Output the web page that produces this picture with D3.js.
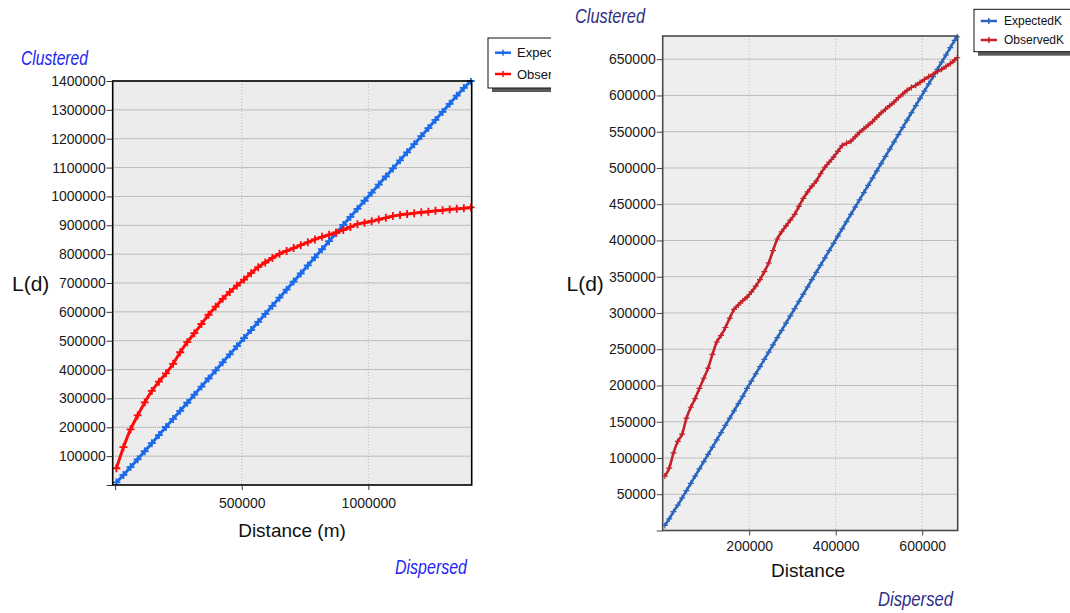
<!DOCTYPE html>
<html><head><meta charset="utf-8">
<script src="https://cdn.jsdelivr.net/npm/d3@7"></script>
<style>
body{margin:0;background:#fff;}
text{font-family:"Liberation Sans",Arial,sans-serif;}
</style>
</head><body>
<svg id="c" width="1070" height="613"></svg>
<script>
// ---------- data ----------
const seriesNames = ["ExpectedK", "ObservedK"];

const leftDistance = [5000, 33000, 61000, 89000, 117000, 145000, 173000, 201000, 229000, 257000,
  285000, 313000, 341000, 369000, 397000, 425000, 453000, 481000, 509000, 537000,
  565000, 593000, 621000, 649000, 677000, 705000, 733000, 761000, 789000, 817000,
  845000, 873000, 901000, 929000, 957000, 985000, 1013000, 1041000, 1069000, 1097000,
  1125000, 1153000, 1181000, 1209000, 1237000, 1265000, 1293000, 1321000, 1349000, 1377000, 1405000];
const leftExpected = [9000, 35000, 62000, 89000, 117000, 145000, 173000, 201000, 229000, 257000,
  285000, 313000, 341000, 369000, 397000, 425000, 453000, 481000, 509000, 537000,
  565000, 593000, 621000, 649000, 677000, 705000, 733000, 761000, 789000, 817000,
  845000, 873000, 901000, 929000, 957000, 985000, 1013000, 1041000, 1069000, 1097000,
  1125000, 1153000, 1181000, 1209000, 1237000, 1265000, 1293000, 1321000, 1349000, 1376000, 1400000];
const leftObserved = [58000, 131000, 193000, 241000, 286000, 326000, 358000, 387000, 420000, 460000,
  495000, 526000, 558000, 590000, 618000, 645000, 669000, 691000, 712000, 734000,
  755000, 771000, 787000, 801000, 811000, 821000, 831000, 841000, 851000, 860000,
  867000, 875000, 884000, 894000, 904000, 909000, 914000, 920000, 926000, 932000,
  936000, 939000, 942000, 945000, 947000, 950000, 952000, 955000, 957000, 959000, 962000];
const leftYTicks = [0, 100000, 200000, 300000, 400000, 500000, 600000, 700000, 800000, 900000,
  1000000, 1100000, 1200000, 1300000, 1400000];
const leftXTicks = [0, 500000, 1000000];

const rightDistance = [5000, 15000, 25000, 35000, 45000, 55000, 65000, 75000, 85000, 95000,
  105000, 115000, 125000, 135000, 145000, 155000, 165000, 175000, 185000, 195000,
  205000, 215000, 225000, 235000, 245000, 255000, 265000, 275000, 285000, 295000,
  305000, 315000, 325000, 335000, 345000, 355000, 365000, 375000, 385000, 395000,
  405000, 415000, 425000, 435000, 445000, 455000, 465000, 475000, 485000, 495000,
  505000, 515000, 525000, 535000, 545000, 555000, 565000, 575000, 585000, 595000,
  605000, 615000, 625000, 635000, 645000, 655000, 665000, 675000, 681000];
const rightExpected = [7000, 16000, 26000, 35000, 45000, 55000, 65000, 75000, 85000, 95000,
  105000, 115000, 125000, 135000, 145000, 155000, 165000, 175000, 185000, 196000,
  206000, 216000, 226000, 236000, 246000, 256000, 266000, 276000, 286000, 296000,
  306000, 316000, 326000, 336000, 346000, 356000, 366000, 376000, 386000, 396000,
  406000, 416000, 426000, 436000, 446000, 456000, 466000, 476000, 486000, 496000,
  506000, 516000, 526000, 536000, 546000, 556000, 566000, 576000, 586000, 596000,
  606000, 616000, 626000, 636000, 646000, 656000, 666000, 676000, 681000];
const rightObserved = [75000, 86000, 107000, 123000, 133000, 155000, 170000, 182000, 196000, 210000,
  224000, 243000, 260000, 269000, 280000, 293000, 305000, 311000, 317000, 322000,
  329000, 337000, 346000, 357000, 369000, 386000, 402000, 412000, 420000, 428000,
  436000, 447000, 458000, 467000, 475000, 482000, 492000, 501000, 508000, 515000,
  523000, 531000, 534000, 537000, 543000, 549000, 554000, 559000, 564000, 570000,
  576000, 581000, 586000, 591000, 597000, 602000, 607000, 611000, 614000, 618000,
  622000, 626000, 629000, 633000, 636000, 640000, 644000, 649000, 652000];
const rightYTicks = [0, 50000, 100000, 150000, 200000, 250000, 300000, 350000, 400000, 450000,
  500000, 550000, 600000, 650000];
const rightXTicks = [200000, 400000, 600000];

// ---------- drawing ----------
const svg = d3.select("#c");
const defs = svg.append("defs");

function drawChart(o) {
  const root = svg.append("g");
  if (o.clipW) {
    defs.append("clipPath").attr("id", o.id + "all").append("rect")
      .attr("x", 0).attr("y", 0).attr("width", o.clipW).attr("height", 613);
    root.attr("clip-path", `url(#${o.id}all)`);
  }
  const x = d3.scaleLinear().domain(o.xDomain).range([o.left, o.right]);
  const y = d3.scaleLinear().domain(o.yDomain).range([o.bottom, o.top]);

  root.append("rect").attr("x", o.left).attr("y", o.top)
    .attr("width", o.right - o.left).attr("height", o.bottom - o.top).attr("fill", o.bg);

  // grid
  root.append("g").selectAll("line").data(o.xTicks.filter(d => d > 0)).join("line")
    .attr("x1", d => x(d)).attr("x2", d => x(d)).attr("y1", o.top).attr("y2", o.bottom)
    .attr("stroke", o.vgrid).attr("stroke-width", 1).attr("stroke-dasharray", "1,2");
  root.append("g").selectAll("line").data(o.yTicks.filter(d => d > 0)).join("line")
    .attr("x1", o.left).attr("x2", o.right).attr("y1", d => y(d)).attr("y2", d => y(d))
    .attr("stroke", o.hgrid).attr("stroke-width", 1).attr("stroke-dasharray", "1,1");

  // series
  defs.append("clipPath").attr("id", o.id + "plot").append("rect")
    .attr("x", o.left).attr("y", o.top - 3).attr("width", o.right - o.left + 3).attr("height", o.bottom - o.top + 3);
  const plot = root.append("g").attr("clip-path", `url(#${o.id}plot)`);
  const series = [
    {vals: o.expected, color: o.colors[0]},
    {vals: o.observed, color: o.colors[1]}
  ];
  const line = d3.line().x(d => x(d[0])).y(d => y(d[1])).curve(d3.curveMonotoneX);
  const s = o.mk;
  series.forEach(sr => {
    const pts = o.distance.map((d, i) => [d, sr.vals[i]]);
    plot.append("path").datum(pts).attr("d", line).attr("fill", "none")
      .attr("stroke", sr.color).attr("stroke-width", o.lw).attr("stroke-linejoin", "round");
    plot.append("g").selectAll("path").data(pts).join("path")
      .attr("transform", d => `translate(${x(d[0])},${y(d[1])})`)
      .attr("d", `M${-s},0H${s}M0,${-s}V${s}`)
      .attr("stroke", sr.color).attr("stroke-width", o.mkw).attr("fill", "none");
  });

  // border
  root.append("rect").attr("x", o.left).attr("y", o.top)
    .attr("width", o.right - o.left).attr("height", o.bottom - o.top)
    .attr("fill", "none").attr("stroke", o.border).attr("stroke-width", o.borderW);

  // axes
  const ya = root.append("g").attr("transform", `translate(${o.left},0)`)
    .call(d3.axisLeft(y).tickValues(o.yTicks).tickSize(6).tickPadding(1)
      .tickFormat(d => d === 0 ? "" : String(d)));
  const xa = root.append("g").attr("transform", `translate(0,${o.bottom})`)
    .call(d3.axisBottom(x).tickValues(o.xTicks).tickSize(5).tickPadding(o.xPad)
      .tickFormat(d => d === 0 ? "" : String(d)));
  [ya, xa].forEach(a => {
    a.select(".domain").remove();
    a.selectAll("line").attr("stroke", o.tickColor);
    a.selectAll("text").attr("font-size", o.tickFont).attr("fill", "#1a1a1a")
      .style("font-family", '"Liberation Sans",Arial,sans-serif');
  });

  // titles
  root.append("text").attr("x", o.ylabX).attr("y", o.ylabY).attr("font-size", 21)
    .attr("fill", "#111").text("L(d)");
  root.append("text").attr("x", o.xlabX).attr("y", o.xlabY).attr("font-size", 19)
    .attr("text-anchor", "middle").attr("fill", "#111").text(o.xTitle);
  root.append("text").attr("x", o.clX).attr("y", o.clY).attr("font-size", o.cdSize)
    .attr("font-style", "italic").attr("fill", o.cdColor)
    .attr("textLength", o.clW).attr("lengthAdjust", "spacingAndGlyphs").text("Clustered");
  root.append("text").attr("x", o.dsX).attr("y", o.dsY).attr("font-size", o.cdSize)
    .attr("font-style", "italic").attr("fill", o.cdColor)
    .attr("textLength", o.dsW).attr("lengthAdjust", "spacingAndGlyphs").text("Dispersed");

  // legend
  const lg = root.append("g");
  lg.append("rect").attr("x", o.lgX + 4).attr("y", o.lgY + 4).attr("width", o.lgW).attr("height", o.lgH)
    .attr("fill", "#5a5a5a");
  lg.append("rect").attr("x", o.lgX).attr("y", o.lgY).attr("width", o.lgW).attr("height", o.lgH)
    .attr("fill", "#fff").attr("stroke", "#111").attr("stroke-width", 1);
  seriesNames.forEach((nm, i) => {
    const yy = o.lgItemY[i];
    lg.append("line").attr("x1", o.lgX + o.lgLine[0]).attr("x2", o.lgX + o.lgLine[1])
      .attr("y1", yy).attr("y2", yy).attr("stroke", o.colors[i]).attr("stroke-width", 2.5);
    const cx = o.lgX + (o.lgLine[0] + o.lgLine[1]) / 2;
    lg.append("path").attr("d", `M${cx},${yy - 3}V${yy + 3}`).attr("stroke", o.colors[i]).attr("stroke-width", 1.5);
    lg.append("text").attr("x", o.lgX + o.lgText).attr("y", yy + o.lgFont * 0.36)
      .attr("font-size", o.lgFont).attr("fill", "#111").text(nm);
  });
}

drawChart({
  id: "L", clipW: 551,
  xDomain: [-9500, 1408000], yDomain: [0, 1400000],
  left: 112.7, right: 471.7, top: 81, bottom: 485,
  xTicks: leftXTicks, yTicks: leftYTicks, xPad: 8,
  distance: leftDistance, expected: leftExpected, observed: leftObserved,
  colors: ["#1a6aea", "#ff0a0a"], lw: 3, mk: 4, mkw: 1.8,
  bg: "#ececec", hgrid: "#8c8c8c", vgrid: "#b8b8b8", border: "#000", borderW: 1.6,
  tickColor: "#333", tickFont: 14,
  ylabX: 12, ylabY: 291, xlabX: 292, xlabY: 537, xTitle: "Distance (m)",
  clX: 21, clY: 65, clW: 67, dsX: 395, dsY: 574, dsW: 72, cdSize: 21, cdColor: "#2424f5",
  lgX: 488, lgY: 38, lgW: 90, lgH: 50, lgItemY: [52.7, 74], lgLine: [7, 23], lgText: 29, lgFont: 13
});

drawChart({
  id: "R",
  xDomain: [0, 682000], yDomain: [0, 682000],
  left: 662.7, right: 957.7, top: 36, bottom: 530.5,
  xTicks: rightXTicks, yTicks: rightYTicks, xPad: 6,
  distance: rightDistance, expected: rightExpected, observed: rightObserved,
  colors: ["#2a66bd", "#c42129"], lw: 2.6, mk: 3, mkw: 1.2,
  bg: "#eeeeee", hgrid: "#8c8c8c", vgrid: "#bdbdbd", border: "#4a4a4a", borderW: 1.6,
  tickColor: "#444", tickFont: 14,
  ylabX: 566.5, ylabY: 291, xlabX: 808, xlabY: 576.5, xTitle: "Distance",
  clX: 575, clY: 22.5, clW: 70, dsX: 878, dsY: 606, dsW: 75, cdSize: 20, cdColor: "#2f2f86",
  lgX: 974, lgY: 9.3, lgW: 110, lgH: 42.4, lgItemY: [21, 40], lgLine: [6.7, 23], lgText: 30, lgFont: 12
});
</script>
</body></html>
